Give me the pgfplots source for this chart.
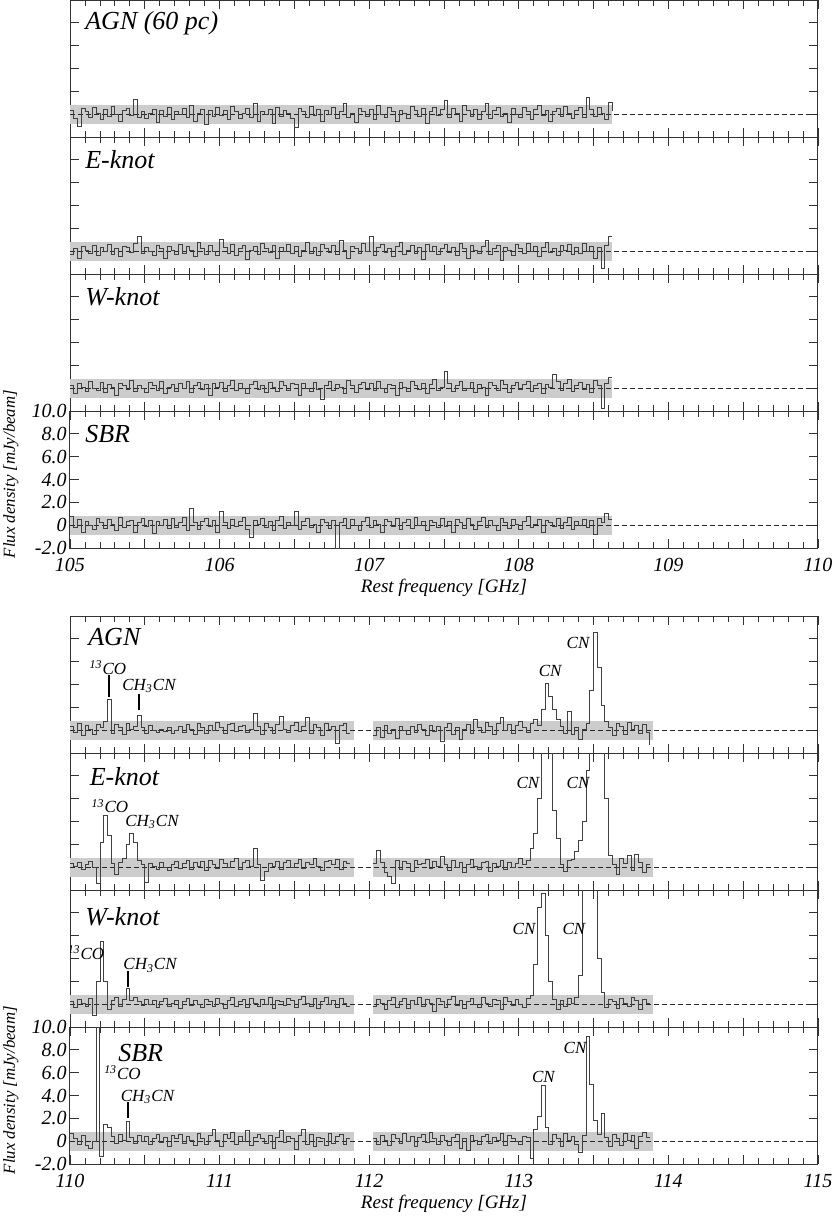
\documentclass[border=0pt]{standalone}
\usepackage{fontspec}
\setmainfont{Liberation Serif}
\usepackage{pgfplots}
\usepackage{pgfplotstable}
\pgfplotsset{compat=1.18}

\definecolor{bandgray}{gray}{0.8}
\definecolor{specline}{gray}{0.25}
\newcommand{\tickf}{\fontsize{10}{12}\selectfont\itshape}
\newcommand{\labf}{\fontsize{9.5}{11}\selectfont\itshape}
\newcommand{\ylabf}{\fontsize{8.4}{10}\selectfont\itshape}
\newcommand{\panf}{\fontsize{13}{15}\selectfont\itshape}
\newcommand{\annf}{\fontsize{8.5}{10}\selectfont\itshape}

% ---- 105-110 GHz (channels of 0.025 GHz from 105.0) ----
\pgfplotstableread[row sep=\\, header=false]{
0.3\\-0.4\\-1.1\\0.5\\0.2\\-0.3\\0.6\\0.1\\-0.5\\0.4\\
-0.2\\0.7\\0.0\\-0.6\\0.3\\0.5\\-0.1\\1.3\\-0.3\\0.2\\
-0.4\\0.1\\0.4\\-0.7\\0.3\\-0.2\\0.6\\-0.5\\0.2\\0.0\\
0.5\\-0.3\\0.8\\-0.6\\0.1\\0.4\\-0.9\\0.3\\-0.2\\0.6\\
-0.1\\0.3\\-0.5\\0.7\\0.2\\-0.4\\0.1\\0.5\\-0.3\\0.9\\
-0.6\\0.2\\0.0\\0.4\\-0.8\\0.6\\-0.2\\0.3\\0.1\\-0.4\\
-1.2\\0.5\\0.2\\-0.3\\0.7\\-0.1\\0.4\\-0.6\\0.3\\0.0\\
0.6\\-0.4\\0.2\\0.9\\-0.3\\0.1\\-0.7\\0.5\\0.2\\-0.2\\
0.4\\-0.5\\0.8\\0.0\\-0.3\\0.6\\0.2\\-0.6\\0.3\\0.1\\
-0.4\\0.7\\0.3\\-0.2\\0.5\\-0.8\\0.2\\0.6\\-0.1\\0.4\\
1.2\\-0.3\\0.5\\0.1\\-0.6\\0.8\\0.3\\-0.2\\0.4\\-0.5\\
0.2\\0.9\\-0.4\\0.3\\0.6\\-0.2\\0.1\\-0.7\\0.5\\0.0\\
-0.3\\0.6\\0.2\\-0.5\\0.4\\0.8\\-0.1\\0.3\\-0.6\\0.2\\
0.5\\-0.2\\0.7\\0.1\\-0.4\\0.3\\0.6\\-0.3\\1.5\\0.4\\
-0.2\\0.6\\0.1\\-0.5\\1.0\\0.3\\
}\tAGNa
\pgfplotstableread[row sep=\\, header=false]{
-0.3\\0.2\\-0.6\\0.4\\0.1\\-0.2\\0.5\\-0.4\\0.3\\0.0\\
0.6\\-0.3\\0.2\\-0.5\\0.4\\0.3\\-0.1\\0.7\\1.3\\-0.2\\
0.3\\0.0\\-0.4\\0.5\\0.2\\-0.6\\0.4\\0.1\\-0.3\\0.6\\
-0.2\\0.4\\0.1\\-0.5\\0.8\\0.2\\-0.3\\0.5\\0.0\\-0.4\\
1.0\\0.3\\-0.2\\0.6\\-0.4\\0.2\\0.5\\-0.7\\0.1\\0.4\\
-0.3\\0.7\\0.2\\-0.1\\0.5\\-0.6\\0.3\\0.0\\0.6\\-0.2\\
0.4\\-0.5\\0.1\\0.8\\-0.2\\0.3\\-0.4\\0.6\\0.2\\-0.1\\
0.5\\-0.3\\0.9\\0.1\\-0.6\\0.4\\0.2\\-0.2\\0.7\\0.0\\
1.3\\-0.4\\0.3\\0.6\\-0.1\\0.2\\-0.5\\0.4\\0.8\\-0.3\\
0.1\\0.5\\-0.2\\0.3\\-0.7\\0.6\\0.0\\0.4\\-0.3\\0.2\\
0.6\\-0.1\\0.3\\-0.4\\0.7\\0.2\\-0.6\\0.5\\0.1\\-0.2\\
0.4\\0.9\\-0.3\\0.2\\0.5\\-0.8\\0.3\\0.1\\-0.4\\0.6\\
0.2\\-0.2\\0.7\\0.0\\0.4\\-0.5\\0.3\\0.8\\-0.1\\0.2\\
-0.4\\0.5\\0.1\\0.6\\-0.3\\0.3\\-0.2\\0.7\\0.0\\0.4\\
-0.6\\0.3\\-1.5\\0.5\\1.3\\1.3\\
}\tEKa
\pgfplotstableread[row sep=\\, header=false]{
0.2\\-0.5\\0.4\\0.1\\-0.3\\0.6\\0.0\\-0.2\\0.5\\-0.4\\
0.3\\0.1\\-0.6\\0.4\\0.2\\-0.1\\0.7\\-0.3\\0.2\\0.0\\
-0.4\\0.5\\0.2\\-0.2\\0.6\\-0.5\\0.1\\0.3\\-0.3\\0.4\\
0.0\\0.6\\-0.4\\0.2\\0.5\\-0.1\\0.3\\-0.6\\0.4\\0.1\\
0.5\\-0.3\\0.2\\0.7\\-0.2\\0.4\\0.0\\-0.5\\0.3\\0.6\\
-0.1\\0.2\\-0.4\\0.5\\0.1\\-0.3\\0.6\\0.2\\-0.2\\0.4\\
0.3\\-0.6\\0.4\\0.0\\-0.3\\0.5\\-0.1\\-1.0\\0.2\\0.6\\
-0.2\\0.3\\0.1\\-0.5\\0.7\\0.2\\-0.4\\0.3\\0.5\\-0.1\\
0.4\\-0.2\\0.6\\0.0\\-0.4\\0.3\\0.2\\-0.6\\0.5\\0.1\\
-0.3\\0.6\\0.2\\-0.1\\0.4\\-0.5\\0.3\\0.8\\-0.2\\0.1\\
1.5\\0.4\\-0.3\\0.2\\0.6\\-0.2\\0.0\\0.5\\-0.4\\0.3\\
0.1\\-0.6\\0.5\\0.2\\-0.2\\0.7\\0.3\\-0.4\\0.2\\0.5\\
-0.1\\0.3\\0.6\\-0.3\\0.2\\0.4\\-0.5\\0.3\\0.1\\1.2\\
0.6\\-0.2\\0.4\\0.8\\-0.3\\0.2\\0.5\\-0.1\\0.3\\-0.4\\
0.7\\0.2\\-1.8\\0.4\\0.9\\0.9\\
}\tWKa
\pgfplotstableread[row sep=\\, header=false]{
0.8\\-0.2\\0.5\\-0.6\\0.3\\0.0\\-0.4\\0.6\\0.2\\-0.3\\
0.5\\0.1\\-0.5\\0.7\\-0.2\\0.3\\0.4\\-0.6\\0.2\\0.6\\
-0.1\\0.4\\-0.7\\0.3\\0.0\\0.5\\-0.3\\0.6\\-0.2\\0.2\\
0.7\\-0.5\\1.5\\0.2\\-0.4\\0.3\\0.6\\-0.1\\0.4\\-0.6\\
1.2\\0.2\\-0.3\\0.5\\-0.1\\0.3\\0.7\\-0.4\\-1.1\\0.4\\
0.1\\0.6\\-0.2\\0.3\\-0.5\\0.4\\0.8\\-0.3\\0.2\\0.0\\
1.2\\-0.4\\0.3\\0.6\\-0.2\\0.1\\-0.6\\0.5\\0.2\\-0.3\\
0.4\\-2.0\\0.2\\0.6\\-0.3\\0.5\\0.0\\-0.5\\0.3\\0.7\\
-0.2\\0.4\\0.1\\-0.6\\0.5\\0.3\\-0.1\\0.6\\-0.4\\0.2\\
0.5\\-0.3\\0.7\\0.0\\0.3\\-0.5\\0.4\\0.2\\-0.2\\0.6\\
-0.1\\0.3\\-0.6\\0.5\\0.2\\-0.3\\0.6\\0.1\\-0.4\\0.3\\
0.7\\-0.2\\0.4\\0.0\\-0.5\\0.6\\0.2\\-0.3\\0.5\\0.1\\
-0.4\\0.3\\0.8\\-0.2\\0.1\\0.5\\-0.6\\0.4\\0.2\\-0.1\\
0.6\\-0.3\\0.2\\0.7\\-0.4\\0.3\\0.0\\0.5\\-0.2\\0.4\\
-0.8\\0.6\\0.2\\1.0\\0.5\\0.5\\
}\tSBRa

% ---- 110-115 GHz: segment 1 from 110.0, segment 2 from 112.025 ----
\pgfplotstableread[row sep=\\, header=false]{
0.3\\-0.2\\0.6\\-0.5\\0.4\\0.1\\-0.4\\0.5\\0.2\\0.8\\
2.7\\-0.3\\0.5\\0.2\\-0.4\\0.6\\0.1\\0.3\\1.3\\0.2\\
-0.3\\0.4\\0.0\\-0.2\\0.1\\-0.1\\0.2\\-0.3\\0.0\\0.3\\
-0.2\\0.5\\0.1\\-0.4\\0.6\\0.2\\-0.3\\0.4\\0.0\\0.7\\
0.2\\-0.3\\0.5\\0.6\\-0.1\\0.3\\0.4\\-0.2\\0.1\\1.5\\
0.3\\-0.4\\0.6\\0.2\\-0.3\\0.5\\1.2\\0.1\\-0.2\\0.4\\
0.7\\-0.1\\0.3\\1.1\\-0.3\\0.5\\0.2\\-0.5\\0.6\\0.1\\
0.3\\-1.2\\0.4\\0.6\\-0.3\\-0.3\\
}\tAGNb
\pgfplotstableread[row sep=\\, header=false]{
-0.5\\0.2\\-0.6\\0.4\\-0.3\\0.1\\-0.7\\0.3\\0.0\\-0.4\\
0.3\\-0.2\\0.5\\0.1\\-0.5\\0.4\\-0.1\\0.3\\-1.0\\0.2\\
0.6\\-0.4\\0.2\\-0.8\\0.1\\0.5\\-0.3\\0.9\\0.2\\-0.2\\
0.7\\0.3\\-0.4\\0.6\\1.1\\0.0\\0.5\\-0.3\\0.4\\0.8\\
0.2\\-0.2\\0.6\\0.9\\0.4\\1.8\\4.1\\3.0\\1.8\\0.9\\
0.3\\-0.3\\1.6\\-0.4\\0.2\\-0.8\\0.1\\0.6\\3.5\\8.6\\
5.5\\2.2\\0.8\\0.2\\-0.5\\0.6\\0.3\\-0.4\\0.7\\0.1\\
0.4\\-0.3\\0.5\\-0.2\\-1.3\\
}\tAGNc
\pgfplotstableread[row sep=\\, header=false]{
0.3\\0.1\\0.4\\-0.2\\0.2\\0.5\\0.0\\-1.4\\2.2\\4.5\\
2.8\\0.3\\-0.6\\0.4\\0.8\\2.0\\3.0\\2.2\\0.6\\0.2\\
-1.3\\0.3\\0.1\\-0.2\\0.4\\0.0\\-0.3\\0.2\\0.5\\-0.1\\
0.3\\0.6\\-0.2\\0.4\\0.1\\0.5\\-0.3\\0.6\\0.2\\-0.1\\
0.7\\0.3\\0.0\\0.5\\0.8\\-0.2\\0.4\\0.6\\0.1\\1.6\\
0.2\\-1.2\\-0.4\\0.3\\0.1\\0.5\\-0.2\\0.4\\0.6\\0.0\\
0.3\\0.7\\-0.1\\0.4\\0.2\\0.8\\0.1\\-0.3\\0.5\\0.6\\
0.2\\0.7\\-0.2\\0.5\\0.3\\0.3\\
}\tEKb
\pgfplotstableread[row sep=\\, header=false]{
0.3\\1.5\\0.4\\-0.5\\-0.8\\-1.4\\0.6\\-0.2\\0.5\\0.3\\
-0.4\\0.6\\0.2\\0.3\\0.7\\-0.1\\0.5\\0.1\\0.9\\0.2\\
-0.3\\0.6\\0.0\\0.4\\-0.5\\0.2\\0.7\\0.1\\-0.2\\0.4\\
0.5\\-0.4\\0.3\\0.1\\0.6\\-0.2\\0.4\\0.0\\0.3\\0.8\\
0.2\\0.6\\1.6\\3.0\\6.0\\13\\13\\13\\5.0\\2.5\\
0.2\\-0.4\\0.6\\0.7\\1.4\\2.3\\4.0\\8.5\\13\\13\\
13\\13\\6.0\\1.0\\0.2\\-0.6\\0.8\\0.3\\1.0\\-0.3\\
1.1\\0.4\\-0.5\\0.2\\0.2\\
}\tEKc
\pgfplotstableread[row sep=\\, header=false]{
0.2\\-0.3\\0.4\\0.1\\-0.2\\0.5\\-1.0\\2.0\\5.5\\2.0\\
-0.5\\0.3\\0.6\\-0.2\\0.4\\1.4\\0.3\\0.6\\0.2\\-0.1\\
0.4\\0.0\\0.3\\-0.3\\0.2\\0.5\\-0.2\\0.1\\0.3\\-0.4\\
0.2\\0.5\\-0.1\\0.3\\0.0\\-0.3\\0.4\\0.2\\-0.2\\0.5\\
0.1\\-0.4\\0.3\\0.6\\-0.2\\0.2\\0.4\\-0.3\\0.5\\0.1\\
-0.2\\0.4\\0.0\\0.6\\-0.4\\0.3\\0.2\\-0.1\\0.5\\0.3\\
-0.3\\0.4\\0.7\\0.1\\-0.2\\0.5\\-0.4\\0.2\\0.6\\0.0\\
0.3\\-0.3\\0.5\\0.1\\-0.2\\-0.2\\
}\tWKb
\pgfplotstableread[row sep=\\, header=false]{
-0.2\\0.4\\0.1\\-0.5\\0.3\\0.6\\-0.3\\0.2\\0.5\\-0.4\\
0.3\\0.0\\0.6\\-0.2\\0.4\\0.1\\-0.6\\0.5\\0.2\\-0.3\\
0.4\\0.7\\-0.1\\0.3\\-0.4\\0.2\\0.5\\0.0\\-0.3\\0.6\\
0.1\\-0.2\\0.4\\0.3\\-0.5\\0.6\\0.2\\-0.1\\0.4\\0.0\\
-0.3\\0.5\\0.8\\3.5\\8.5\\9.7\\6.0\\2.0\\0.4\\-0.5\\
0.3\\-0.2\\0.5\\0.1\\0.6\\2.5\\10.5\\13\\13\\11\\
4.0\\1.0\\-0.3\\0.4\\0.2\\-0.4\\0.5\\0.1\\-0.2\\0.6\\
0.3\\-0.5\\0.4\\0.1\\0.1\\
}\tWKc
\pgfplotstableread[row sep=\\, header=false]{
0.7\\0.2\\-0.3\\0.5\\-0.4\\-0.6\\0.0\\12\\-1.3\\1.5\\
1.2\\0.4\\-0.2\\0.6\\0.1\\1.7\\0.3\\-0.2\\0.5\\0.0\\
0.4\\-0.3\\0.2\\0.6\\-0.1\\0.3\\-0.5\\0.5\\0.2\\0.6\\
-0.2\\0.4\\0.1\\-0.4\\0.7\\0.2\\-0.3\\0.5\\1.0\\0.1\\
-0.5\\0.6\\0.2\\0.8\\-0.3\\0.4\\0.0\\0.9\\-0.4\\0.3\\
0.6\\0.2\\-0.2\\0.5\\-0.6\\0.3\\0.9\\-0.1\\0.4\\0.2\\
-0.7\\0.5\\1.0\\-0.3\\0.6\\-0.5\\0.3\\0.2\\-0.4\\0.7\\
-0.2\\0.4\\0.6\\-0.3\\0.2\\0.2\\
}\tSBRb
\pgfplotstableread[row sep=\\, header=false]{
0.2\\-0.3\\0.5\\0.1\\-0.4\\0.6\\0.2\\-0.2\\0.7\\0.0\\
0.4\\-0.5\\0.3\\0.6\\-0.1\\0.8\\0.2\\-0.3\\0.5\\0.1\\
-0.4\\0.3\\0.6\\-0.6\\0.2\\-0.8\\0.5\\0.1\\-0.3\\0.4\\
0.6\\-0.2\\0.3\\0.1\\0.7\\-0.4\\0.5\\0.2\\0.0\\-0.3\\
0.4\\0.3\\-1.5\\1.0\\2.2\\4.9\\1.2\\-0.3\\0.6\\0.2\\
-0.5\\0.7\\0.1\\0.4\\-0.3\\-1.0\\0.5\\9.2\\5.0\\1.8\\
0.6\\2.4\\0.3\\-0.5\\0.6\\0.2\\-0.4\\0.7\\0.1\\0.5\\
-0.6\\0.4\\0.8\\0.3\\0.3\\
}\tSBRc

\pgfplotsset{
  panel/.style={
    scale only axis, width=374pt, height=68.5pt,
    anchor=north west,
    ymin=-2, ymax=10, ytick={-2,0,...,10}, yticklabels={},
    xticklabels={},
    minor x tick num=4,
    tick align=inside,
    major tick length=4.5pt, minor tick length=3pt,
    axis line style={black!80, line width=0.5pt},
    every tick/.style={black!80, line width=0.4pt},
    every tick label/.append style={font=\tickf},
    yticklabel style={inner xsep=1.5pt},
    xticklabel style={yshift=-1.8pt},
  },
  topgrp/.style={xmin=105, xmax=110, xtick={105,105.5,...,110}},
  botgrp/.style={xmin=110, xmax=115, xtick={110,110.5,...,115}},
  lowest/.style={
    yticklabels={-2.0,0,2.0,4.0,6.0,8.0,10.0},
    ylabel={Flux density [mJy/beam]},
    ylabel style={at={(axis description cs:-0.079,0.54)}, anchor=center, font=\ylabf},
    xlabel={Rest frequency [GHz]},
    xlabel style={at={(axis description cs:0.5,-0.29)}, anchor=center, font=\labf},
  },
  bandfill/.style={fill=bandgray, draw=none},
  zeroline/.style={black!85, line width=0.4pt, dash pattern=on 2.3pt off 1.7pt},
  spec/.style={const plot, specline, line width=0.42pt},
}
\tikzset{
  plabel/.style={anchor=west, font=\panf, inner sep=0pt},
  alabel/.style={font=\annf, inner sep=0pt},
  amark/.style={black, line width=0.8pt},
}

\newcommand{\topband}{\addplot[bandfill] coordinates {(105,-0.82) (108.625,-0.82) (108.625,0.78) (105,0.78)} --cycle;
  \addplot[zeroline] coordinates {(105,0) (110,0)};}
\newcommand{\botband}{\addplot[bandfill] coordinates {(110,-0.82) (111.9,-0.82) (111.9,0.78) (110,0.78)} --cycle;
  \addplot[bandfill] coordinates {(112.025,-0.82) (113.9,-0.82) (113.9,0.78) (112.025,0.78)} --cycle;
  \addplot[zeroline] coordinates {(110,0) (115,0)};}

\begin{document}
\begin{tikzpicture}
\useasboundingbox (0,0) rectangle (415.5pt,-608pt);

% ================= 105-110 GHz =================
\begin{axis}[panel, topgrp, at={(35pt,0pt)}]
\topband
\addplot[spec] table[x expr=105+0.025*\coordindex, y index=0] {\tAGNa};
\node[plabel] at (axis cs:105.1,8.0) {AGN (60 pc)};
\end{axis}

\begin{axis}[panel, topgrp, at={(35pt,-68.5pt)}]
\topband
\addplot[spec] table[x expr=105+0.025*\coordindex, y index=0] {\tEKa};
\node[plabel] at (axis cs:105.1,8.0) {E-knot};
\end{axis}

\begin{axis}[panel, topgrp, at={(35pt,-137pt)}]
\topband
\addplot[spec] table[x expr=105+0.025*\coordindex, y index=0] {\tWKa};
\node[plabel] at (axis cs:105.1,8.0) {W-knot};
\end{axis}

\begin{axis}[panel, topgrp, lowest, at={(35pt,-205.5pt)},
  xticklabels={105,,106,,107,,108,,109,,110}]
\topband
\addplot[spec] table[x expr=105+0.025*\coordindex, y index=0] {\tSBRa};
\node[plabel] at (axis cs:105.1,8.0) {SBR};
\end{axis}

% ================= 110-115 GHz =================
\begin{axis}[panel, botgrp, at={(35pt,-308pt)}]
\botband
\addplot[spec] table[x expr=110+0.025*\coordindex, y index=0] {\tAGNb};
\addplot[spec] table[x expr=112.025+0.025*\coordindex, y index=0] {\tAGNc};
\node[plabel] at (axis cs:110.12,8.15) {AGN};
\node[alabel] at (axis cs:110.254,5.5) {\textsuperscript{13}CO};
\draw[amark] (axis cs:110.2625,2.9) -- (axis cs:110.2625,4.8);
\node[alabel] at (axis cs:110.528,3.85) {CH\textsubscript{3}CN};
\draw[amark] (axis cs:110.4625,1.75) -- (axis cs:110.4625,3.15);
\node[alabel] at (axis cs:113.21,5.2) {CN};
\node[alabel] at (axis cs:113.396,7.6) {CN};
\end{axis}

\begin{axis}[panel, botgrp, at={(35pt,-376.5pt)}]
\botband
\addplot[spec] table[x expr=110+0.025*\coordindex, y index=0] {\tEKb};
\addplot[spec] table[x expr=112.025+0.025*\coordindex, y index=0] {\tEKc};
\node[plabel] at (axis cs:110.13,7.9) {E-knot};
\node[alabel] at (axis cs:110.267,5.35) {\textsuperscript{13}CO};
\node[alabel] at (axis cs:110.548,3.95) {CH\textsubscript{3}CN};
\node[alabel] at (axis cs:113.061,7.35) {CN};
\node[alabel] at (axis cs:113.396,7.35) {CN};
\end{axis}

\begin{axis}[panel, botgrp, at={(35pt,-445pt)}]
\botband
\addplot[spec] table[x expr=110+0.025*\coordindex, y index=0] {\tWKb};
\addplot[spec] table[x expr=112.025+0.025*\coordindex, y index=0] {\tWKc};
\node[plabel] at (axis cs:110.1,7.7) {W-knot};
\node[alabel] at (axis cs:110.107,4.5) {\textsuperscript{13}CO};
\node[alabel] at (axis cs:110.535,3.4) {CH\textsubscript{3}CN};
\draw[amark] (axis cs:110.3875,1.5) -- (axis cs:110.3875,2.9);
\node[alabel] at (axis cs:113.035,6.6) {CN};
\node[alabel] at (axis cs:113.369,6.6) {CN};
\end{axis}

\begin{axis}[panel, botgrp, lowest, at={(35pt,-513.5pt)},
  xticklabels={110,,111,,112,,113,,114,,115}]
\botband
\addplot[spec] table[x expr=110+0.025*\coordindex, y index=0] {\tSBRb};
\addplot[spec] table[x expr=112.025+0.025*\coordindex, y index=0] {\tSBRc};
\node[plabel] at (axis cs:110.32,7.7) {SBR};
\node[alabel] at (axis cs:110.351,6.0) {\textsuperscript{13}CO};
\node[alabel] at (axis cs:110.518,3.85) {CH\textsubscript{3}CN};
\draw[amark] (axis cs:110.3875,2.0) -- (axis cs:110.3875,3.4);
\node[alabel] at (axis cs:113.165,5.6) {CN};
\node[alabel] at (axis cs:113.376,8.2) {CN};
\end{axis}
\end{tikzpicture}
\end{document}
